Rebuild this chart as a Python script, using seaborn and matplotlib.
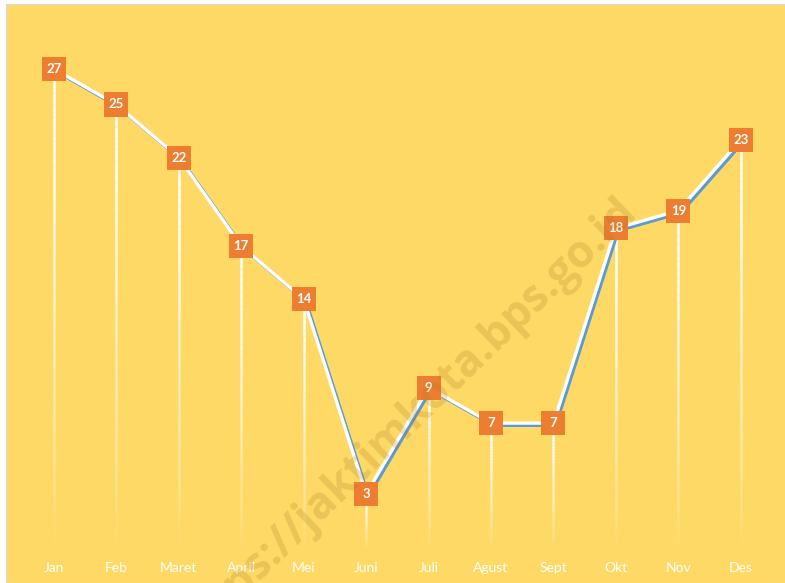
import matplotlib
matplotlib.use("Agg")
import matplotlib.pyplot as plt
import matplotlib.patheffects as pe
from matplotlib.patches import Rectangle
import numpy as np
import pandas as pd
import seaborn as sns

# data
months = ["Jan", "Feb", "Maret", "April", "Mei", "Juni", "Juli", "Agust", "Sept", "Okt", "Nov", "Des"]
values = [27, 25, 22, 17, 14, 3, 9, 7, 7, 18, 19, 23]

yellow = "#FFD966"
orange = "#ED7D31"
blue = "#5B9BD5"

sns.set_theme(style="white")
plt.rcParams["font.family"] = ["Lato", "DejaVu Sans"]

df = pd.DataFrame({"x": range(len(months)), "bulan": months, "nilai": values})

W, H = 785, 583
fig = plt.figure(figsize=(W / 100, H / 100), dpi=100)
fig.patch.set_facecolor("white")
bg = Rectangle((6 / W, 0), 1 - 6 / W, (H - 4) / H, transform=fig.transFigure,
               facecolor=yellow, edgecolor="#D9D9D9", linewidth=0.8, zorder=-5)
fig.patches.append(bg)

ax = fig.add_axes([22.75 / W, 36 / H, (772 - 22.75) / W, 531 / H])
ax.set_facecolor("none")
ax.patch.set_alpha(0)

# drop lines with fading gradient
for xi, v in zip(df["x"], df["nilai"]):
    n = 40
    ys = np.linspace(0, v, n + 1)
    for k in range(n):
        frac = (k + 0.5) / n
        ax.plot([xi, xi], [ys[k], ys[k + 1]], color="white", lw=1.8,
                alpha=min(1.0, frac ** 0.8 * 1.1), solid_capstyle="butt", zorder=2)

sns.lineplot(data=df, x="x", y="nilai", ax=ax, color="white", lw=2.4, zorder=3,
             path_effects=[pe.SimpleLineShadow(offset=(1.6, -1.6), shadow_color=blue, alpha=1),
                           pe.Normal()])
sns.scatterplot(data=df, x="x", y="nilai", ax=ax, marker="s", s=300, color=orange,
                edgecolor="none", linewidth=0, zorder=4, legend=False)

for xi, v in zip(df["x"], df["nilai"]):
    ax.text(xi, v, str(v), color="white", fontsize=9.5, fontweight="bold",
            ha="center", va="center", zorder=5)

ax.set_xlim(-0.5, 11.5)
ax.set_ylim(0, 30)
ax.set_xticks(df["x"])
ax.set_xticklabels(months, color="white", fontsize=10)
ax.tick_params(axis="x", length=0, pad=11)
ax.set_yticks([])
ax.set_xlabel("")
ax.set_ylabel("")
sns.despine(ax=ax, left=True, bottom=True)

# watermark
fig.text(630 / W, (H - 205) / H, "https://jaktimkota.bps.go.id", rotation=44, rotation_mode="anchor",
         ha="right", va="center", fontsize=32, fontweight="bold", color="#A07A20", alpha=0.22,
         family=["Open Sans", "DejaVu Sans"], zorder=10)

fig.savefig("out.png", dpi=100, facecolor=fig.get_facecolor())
